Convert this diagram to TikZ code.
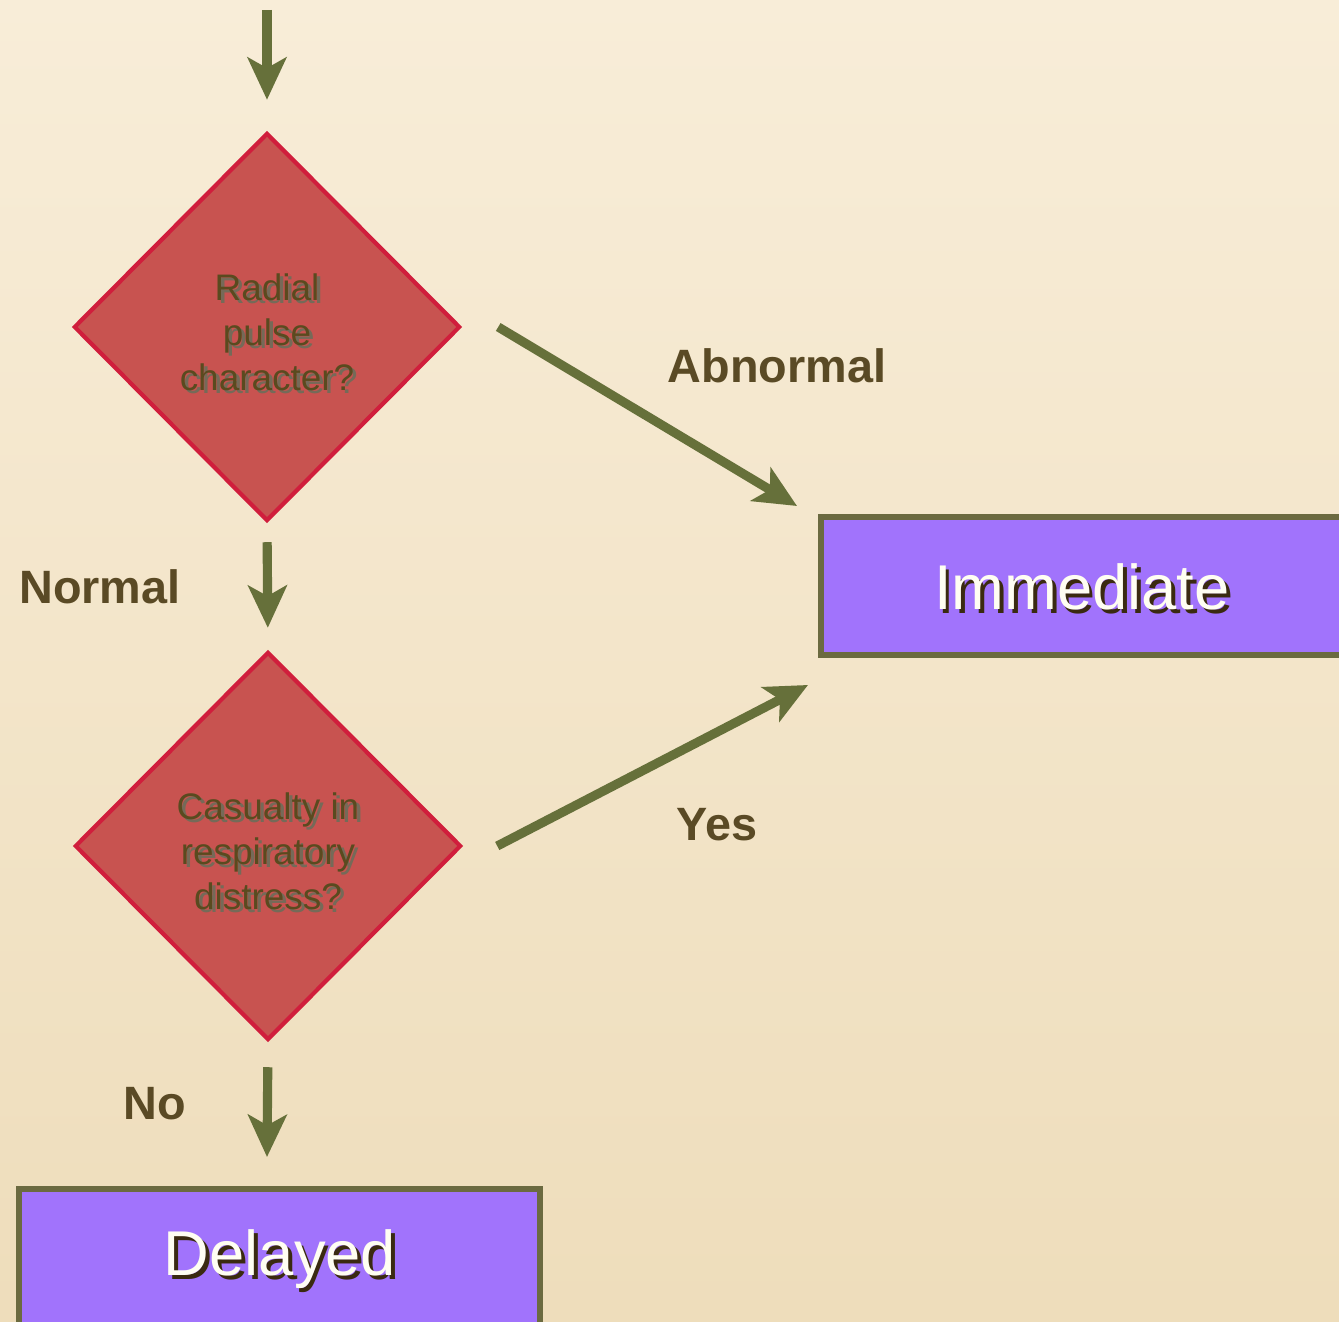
\documentclass[tikz,border=0pt]{standalone}
\usepackage{fontspec}
\setmainfont{Liberation Sans}
\usetikzlibrary{
		positioning,
		arrows.meta,
		shapes.geometric
	}
\definecolor{paperTop}{HTML}{F8EDD8}
\definecolor{paperBot}{HTML}{EEDDBB}
\definecolor{qfill}{HTML}{C85350}
\definecolor{qline}{HTML}{D01E3C}
\definecolor{qtext}{HTML}{5A4A1F}
\definecolor{boxfill}{HTML}{A173FC}
\definecolor{boxline}{HTML}{6B6A40}
\definecolor{flowcol}{HTML}{66703A}
\definecolor{lbltext}{HTML}{5A4A25}
\definecolor{shadowcol}{HTML}{3A2A10}
\newcommand\shadowed[3]{\makebox[0pt][l]{\raisebox{-1pt}{\hspace{1pt}\textcolor{#1}{#3}}}\textcolor{#2}{#3}}
\tikzset{
		question/.style={diamond, draw=qline, fill=qfill, line width=1.2pt, inner sep=0pt,
			minimum width=38.6mm, minimum height=38.8mm, align=center,
			font=\fontsize{10.5}{12.8}\selectfont},
		flow/.style={draw=flowcol, line width=2.6pt, -{Stealth[length=12pt,width=11pt,inset=3pt]}},
		branch/.style={text=lbltext, font=\fontsize{13.3}{15}\selectfont\bfseries}
	}

\begin{document}
\begin{tikzpicture}[x=0.01cm, y=-0.01cm] % one unit = one pixel of the 1339x1322 page
		\useasboundingbox (0,0) rectangle (1339,1322);
		\shade[top color=paperTop, bottom color=paperBot] (0,0) rectangle (1339,1322);
		\clip (0,0) rectangle (1339,1322);
		% decisions
		\node[question] (pulse) at (267,327) {\\[-1.4pt]\shadowed{shadowcol!70}{qtext}{Radial}\\
			\shadowed{shadowcol!70}{qtext}{pulse}\\ \shadowed{shadowcol!70}{qtext}{character?}};
		\node[question] (resp) at (268,846) {\\[-1.4pt]\shadowed{shadowcol!70}{qtext}{Casualty in}\\
			\shadowed{shadowcol!70}{qtext}{respiratory}\\ \shadowed{shadowcol!70}{qtext}{distress?}};
		% outcomes
		\draw[boxline, fill=boxfill, line width=1.5pt] (821,517) rectangle (1350,655);
		\node (immediate) at (1082,589) {\fontsize{18}{20}\selectfont\shadowed{shadowcol}{white!95!yellow}{Immediate}};
		\draw[boxline, fill=boxfill, line width=1.5pt] (19,1189) rectangle (540,1340);
		\node (delayed) at (280,1261) {\fontsize{18}{20}\selectfont\shadowed{shadowcol}{white!95!yellow}{Delayed}};
		% free arrow ends
		\coordinate (entry) at (267,10);
		\coordinate (abnEnd) at (797,506);
		\coordinate (yesEnd) at (808,685);
		\coordinate (noEnd) at (267,1157);
		% connectors
		\draw[flow] (entry) -- ([yshift=3.1mm]pulse.north);
		\draw[flow, shorten <=1.9mm, shorten >=2.2mm] (pulse.south) -- (resp.north);
		\draw[flow] ([xshift=3.6mm]pulse.east) -- (abnEnd);
		\draw[flow] ([xshift=3.4mm]resp.east) -- (yesEnd);
		\draw[flow, shorten <=2.5mm] (resp.south) -- (noEnd);
		% branch labels
		\node[branch] (abn) at (777,366) {Abnormal};
		\node[branch] (nrm) at (100,587) {Normal};
		\node[branch] (yes) at (717,825) {Yes};
		\node[branch] (no) at (155,1104) {No};
	\end{tikzpicture}
\end{document}
